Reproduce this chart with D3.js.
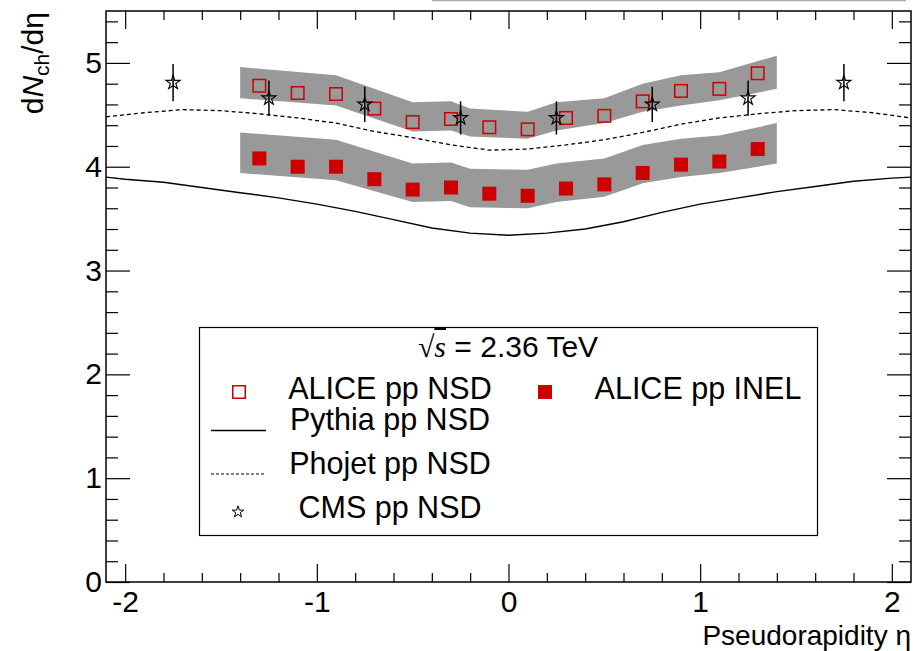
<!DOCTYPE html>
<html>
<head>
<meta charset="utf-8">
<script src="https://cdn.jsdelivr.net/npm/d3@7"></script>
<style>
  body { margin: 0; background: #fff; }
  text { font-family: "Liberation Sans", Arial, sans-serif; }
</style>
</head>
<body>
<div id="chart"></div>
<script>
// ALICE points (bin centres)
const aliceEta = [-1.3, -1.1, -0.9, -0.7, -0.5, -0.3, -0.1, 0.1, 0.3, 0.5, 0.7, 0.9, 1.1, 1.3];
const nsdValues = [4.78, 4.71, 4.70, 4.56, 4.43, 4.46, 4.38, 4.36, 4.47, 4.49, 4.63, 4.73, 4.75, 4.90];
const inelValues = [4.08, 4.00, 4.00, 3.88, 3.78, 3.80, 3.74, 3.72, 3.79, 3.83, 3.94, 4.02, 4.05, 4.17];

// systematic bands (edges)
const bandEta = [-1.4, -0.9, -0.5, -0.3, -0.2, 0.1, 0.25, 0.5, 0.7, 0.9, 1.1, 1.4];
const nsdBandHigh = [4.96, 4.88, 4.62, 4.63, 4.56, 4.53, 4.62, 4.66, 4.80, 4.88, 4.91, 5.07];
const nsdBandLow = [4.66, 4.59, 4.34, 4.35, 4.29, 4.27, 4.35, 4.42, 4.53, 4.59, 4.64, 4.75];
const inelBandHigh = [4.33, 4.26, 4.03, 4.04, 3.98, 3.97, 4.03, 4.08, 4.21, 4.27, 4.30, 4.42];
const inelBandLow = [3.94, 3.87, 3.66, 3.67, 3.61, 3.60, 3.66, 3.71, 3.84, 3.90, 3.94, 4.03];

// CMS
const cmsEta = [-1.75, -1.25, -0.75, -0.25, 0.25, 0.75, 1.25, 1.75];
const cmsValues = [4.81, 4.66, 4.60, 4.47, 4.47, 4.60, 4.66, 4.81];
const cmsErrors = [0.18, 0.17, 0.17, 0.16, 0.16, 0.17, 0.17, 0.18];

// MC curves
const pythiaEta = [-2.1, -2.0, -1.8, -1.6, -1.4, -1.2, -1.0, -0.8, -0.6, -0.4, -0.2, 0, 0.2, 0.4, 0.6, 0.8, 1.0, 1.2, 1.4, 1.6, 1.8, 2.0, 2.1];
const pythiaValues = [3.90, 3.88, 3.85, 3.80, 3.75, 3.70, 3.64, 3.57, 3.49, 3.41, 3.36, 3.34, 3.36, 3.40, 3.47, 3.56, 3.64, 3.70, 3.76, 3.81, 3.86, 3.89, 3.90];
const phojetEta = [-2.1, -1.9, -1.7, -1.5, -1.3, -1.1, -0.9, -0.7, -0.5, -0.3, -0.1, 0.1, 0.3, 0.5, 0.7, 0.9, 1.1, 1.3, 1.5, 1.7, 1.9, 2.1];
const phojetValues = [4.48, 4.52, 4.55, 4.54, 4.51, 4.47, 4.42, 4.34, 4.28, 4.21, 4.16, 4.17, 4.21, 4.26, 4.33, 4.41, 4.47, 4.51, 4.54, 4.55, 4.52, 4.47];

// ticks
const xMajor = [-2, -1, 0, 1, 2];
const yMajor = [0, 1, 2, 3, 4, 5];
const legendLabels = ['ALICE pp NSD', 'ALICE pp INEL', 'Pythia pp NSD', 'Phojet pp NSD', 'CMS pp NSD'];

const draw = (el) => {
  const dimensions = {
    width: 915,
    height: 651,
    left: 106,
    right: 911,
    top: 11,
    bottom: 582,
  };

  const red = '#cc0000';

  const svg = d3.select(el)
    .append('svg')
    .attr('width', dimensions.width)
    .attr('height', dimensions.height);

  const x = d3.scaleLinear().domain([-2.1, 2.1]).range([dimensions.left, dimensions.right]);
  const y = d3.scaleLinear().domain([0, 5.5]).range([dimensions.bottom, dimensions.top]);

  const xMinor = d3.range(-20, 21, 2).map(d => d / 10).filter(d => !xMajor.includes(d));
  const yMinor = d3.range(0, 55, 2).map(d => d / 10).filter(d => !yMajor.includes(d));

  // bit of a box cut at the top edge
  svg.append('line')
    .attr('x1', 432).attr('x2', 906)
    .attr('y1', 0.5).attr('y2', 0.5)
    .attr('stroke', '#aaa')
    .attr('stroke-width', 1.5);

  // bands
  const bandArea = (lo, hi) => d3.area()
    .x((_, i) => x(bandEta[i]))
    .y0((_, i) => y(lo[i]))
    .y1((_, i) => y(hi[i]));

  svg.append('path')
    .attr('d', bandArea(nsdBandLow, nsdBandHigh)(bandEta))
    .attr('fill', '#999');
  svg.append('path')
    .attr('d', bandArea(inelBandLow, inelBandHigh)(bandEta))
    .attr('fill', '#999');

  // MC lines
  svg.append('path')
    .attr('d', d3.line().x((d, i) => x(d)).y((_, i) => y(pythiaValues[i]))(pythiaEta))
    .attr('fill', 'none')
    .attr('stroke', '#000')
    .attr('stroke-width', 1.4);

  svg.append('path')
    .attr('d', d3.line().x((d, i) => x(d)).y((_, i) => y(phojetValues[i]))(phojetEta))
    .attr('fill', 'none')
    .attr('stroke', '#000')
    .attr('stroke-width', 1.3)
    .attr('stroke-dasharray', '4,3');

  // ALICE markers
  const box = 14;
  svg.append('g')
    .selectAll('rect')
    .data(inelValues)
    .join('rect')
    .attr('x', (_, i) => x(aliceEta[i]) - box / 2)
    .attr('y', d => y(d) - box / 2)
    .attr('width', box)
    .attr('height', box)
    .attr('fill', red);

  svg.append('g')
    .selectAll('rect')
    .data(nsdValues)
    .join('rect')
    .attr('x', (_, i) => x(aliceEta[i]) - box / 2 + 0.75)
    .attr('y', d => y(d) - box / 2 + 0.75)
    .attr('width', box - 1.5)
    .attr('height', box - 1.5)
    .attr('fill', 'none')
    .attr('stroke', red)
    .attr('stroke-width', 1.5);

  // CMS stars with error bars
  const cms = svg.append('g');
  cms.selectAll('line')
    .data(cmsValues)
    .join('line')
    .attr('x1', (_, i) => x(cmsEta[i]))
    .attr('x2', (_, i) => x(cmsEta[i]))
    .attr('y1', (d, i) => y(d + cmsErrors[i]))
    .attr('y2', (d, i) => y(d - cmsErrors[i]))
    .attr('stroke', '#000')
    .attr('stroke-width', 1.5);

  const star = d3.symbol().type(d3.symbolStar);
  cms.selectAll('path')
    .data(cmsValues)
    .join('path')
    .attr('d', star.size(62)())
    .attr('transform', (d, i) => `translate(${x(cmsEta[i])},${y(d)})`)
    .attr('fill', 'none')
    .attr('stroke', '#000')
    .attr('stroke-width', 1.1);

  // axes
  const styleAxis = (g) => {
    g.select('.domain').remove();
    g.selectAll('line').attr('stroke', '#000').attr('stroke-width', 1.2);
    g.selectAll('text')
      .attr('font-family', '"Liberation Sans", Arial, sans-serif')
      .attr('font-size', 30)
      .attr('fill', '#000');
  };
  const label = d => String(d);

  svg.append('g')
    .attr('transform', `translate(0,${dimensions.bottom})`)
    .call(d3.axisBottom(x).tickValues(xMajor).tickSizeInner(-18).tickSizeOuter(0).tickPadding(9).tickFormat(label))
    .call(styleAxis);
  svg.append('g')
    .attr('transform', `translate(0,${dimensions.bottom})`)
    .call(d3.axisBottom(x).tickValues(xMinor).tickSizeInner(-9).tickSizeOuter(0).tickFormat(''))
    .call(styleAxis);
  svg.append('g')
    .attr('transform', `translate(0,${dimensions.top})`)
    .call(d3.axisTop(x).tickValues(xMajor).tickSizeInner(-18).tickSizeOuter(0).tickFormat(''))
    .call(styleAxis);
  svg.append('g')
    .attr('transform', `translate(0,${dimensions.top})`)
    .call(d3.axisTop(x).tickValues(xMinor).tickSizeInner(-9).tickSizeOuter(0).tickFormat(''))
    .call(styleAxis);

  svg.append('g')
    .attr('transform', `translate(${dimensions.left},0)`)
    .call(d3.axisLeft(y).tickValues(yMajor).tickSizeInner(-24).tickSizeOuter(0).tickPadding(4).tickFormat(label))
    .call(styleAxis);
  svg.append('g')
    .attr('transform', `translate(${dimensions.left},0)`)
    .call(d3.axisLeft(y).tickValues(yMinor).tickSizeInner(-12).tickSizeOuter(0).tickFormat(''))
    .call(styleAxis);
  svg.append('g')
    .attr('transform', `translate(${dimensions.right},0)`)
    .call(d3.axisRight(y).tickValues(yMajor).tickSizeInner(-24).tickSizeOuter(0).tickFormat(''))
    .call(styleAxis);
  svg.append('g')
    .attr('transform', `translate(${dimensions.right},0)`)
    .call(d3.axisRight(y).tickValues(yMinor).tickSizeInner(-12).tickSizeOuter(0).tickFormat(''))
    .call(styleAxis);

  // frame
  svg.append('rect')
    .attr('x', dimensions.left)
    .attr('y', dimensions.top)
    .attr('width', dimensions.right - dimensions.left)
    .attr('height', dimensions.bottom - dimensions.top)
    .attr('fill', 'none')
    .attr('stroke', '#000')
    .attr('stroke-width', 1.5);

  // axis titles
  svg.append('text')
    .attr('x', 911)
    .attr('y', 645)
    .attr('text-anchor', 'end')
    .attr('font-size', 28)
    .text('Pseudorapidity η');

  const yTitle = svg.append('text')
    .attr('transform', 'translate(43,12) rotate(-90)')
    .attr('text-anchor', 'end')
    .attr('font-size', 30);
  yTitle.append('tspan').text('d');
  yTitle.append('tspan').attr('font-style', 'italic').text('N');
  yTitle.append('tspan').attr('font-size', 21).attr('dy', 6).text('ch');
  yTitle.append('tspan').attr('dy', -6).text('/dη');

  // legend
  const legend = svg.append('g');
  legend.append('rect')
    .attr('x', 199.5)
    .attr('y', 327.5)
    .attr('width', 618)
    .attr('height', 208)
    .attr('fill', '#fff')
    .attr('stroke', '#000')
    .attr('stroke-width', 1.2);

  const head = legend.append('text')
    .attr('x', 508)
    .attr('y', 357)
    .attr('text-anchor', 'middle')
    .attr('font-size', 30);
  head.append('tspan').attr('font-family', '"Liberation Serif", serif').text('√');
  head.append('tspan')
    .attr('font-family', '"Liberation Serif", serif')
    .attr('font-style', 'italic')
    .attr('text-decoration', 'overline')
    .text('s');
  head.append('tspan').text(' = 2.36 TeV');

  const rows = [
    { label: legendLabels[0], tx: 390, ty: 399 },
    { label: legendLabels[1], tx: 698, ty: 399 },
    { label: legendLabels[2], tx: 390, ty: 430 },
    { label: legendLabels[3], tx: 390, ty: 474 },
    { label: legendLabels[4], tx: 390, ty: 518 },
  ];
  legend.selectAll('text.entry')
    .data(rows)
    .join('text')
    .attr('class', 'entry')
    .attr('x', d => d.tx)
    .attr('y', d => d.ty)
    .attr('text-anchor', 'middle')
    .attr('font-size', 30.5)
    .text(d => d.label);

  legend.append('rect')
    .attr('x', 239 - box / 2 + 0.75).attr('y', 392 - box / 2 + 0.75)
    .attr('width', box - 1.5).attr('height', box - 1.5)
    .attr('fill', 'none').attr('stroke', red).attr('stroke-width', 1.5);
  legend.append('rect')
    .attr('x', 545 - box / 2).attr('y', 392 - box / 2)
    .attr('width', box).attr('height', box)
    .attr('fill', red);
  legend.append('line')
    .attr('x1', 211).attr('x2', 266).attr('y1', 430.5).attr('y2', 430.5)
    .attr('stroke', '#000').attr('stroke-width', 1.4);
  legend.append('line')
    .attr('x1', 211).attr('x2', 265).attr('y1', 474).attr('y2', 474)
    .attr('stroke', '#000').attr('stroke-width', 1.2).attr('stroke-dasharray', '3,2');
  legend.append('path')
    .attr('d', star.size(42)())
    .attr('transform', 'translate(238,512)')
    .attr('fill', 'none')
    .attr('stroke', '#000')
    .attr('stroke-width', 1);
};

draw('#chart');
</script>
</body>
</html>
